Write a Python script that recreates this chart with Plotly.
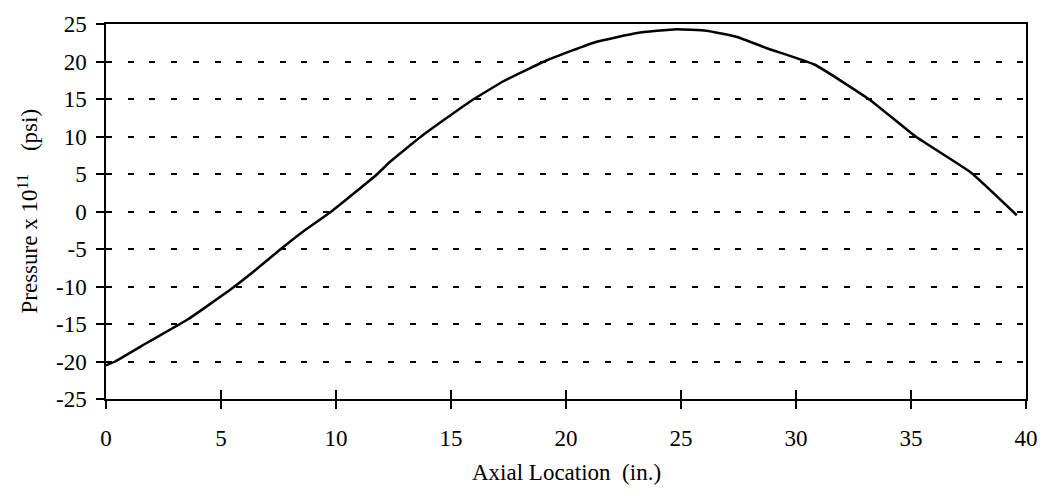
import plotly.graph_objects as go

axial_in = [0, 0.4, 1.9, 3.6, 5.5, 6.5, 7.6, 8.6, 9.8, 11.8, 12.3, 13.7, 15.8, 17.3,
            19.2, 21.3, 23.1, 24.8, 26.1, 27.4, 28.8, 30.8, 33.2, 35.2, 37.6, 39.6]
pressure = [-20.5, -20.0, -17.3, -14.3, -10.2, -7.8, -5.0, -2.6, 0.0, 5.0, 6.5, 10.0, 14.6, 17.4,
            20.2, 22.6, 23.8, 24.3, 24.1, 23.3, 21.7, 19.6, 14.9, 10.0, 5.2, -0.5]

x_ticks = [0, 5, 10, 15, 20, 25, 30, 35, 40]
y_ticks = [25, 20, 15, 10, 5, 0, -5, -10, -15, -20, -25]

FONT = "Liberation Serif, Times New Roman, serif"
FS = 23

fig = go.Figure()
fig.add_trace(go.Scatter(x=axial_in, y=pressure, mode="lines",
                         line=dict(color="black", width=2.5, shape="spline", smoothing=0.4),
                         showlegend=False, cliponaxis=False))
# invisible trace to carry the overlay axis (inside tick halves)
fig.add_trace(go.Scatter(x=[0, 40], y=[-25, 25], mode="markers", marker=dict(opacity=0),
                         xaxis="x2", yaxis="y2", showlegend=False, hoverinfo="skip"))

fig.update_layout(
    width=1050, height=501,
    margin=dict(l=106, r=19, t=15, b=102),
    paper_bgcolor="white", plot_bgcolor="white",
    font=dict(family=FONT, size=FS, color="black"),
    xaxis=dict(range=[0, 40], tickvals=x_ticks, ticktext=[str(v) for v in x_ticks],
               ticks="outside", ticklen=8, tickwidth=1.5, tickcolor="black",
               showline=True, linecolor="black", linewidth=1.5, mirror=True,
               showgrid=False, zeroline=False, ticklabelstandoff=10,
               tickfont=dict(family=FONT, size=FS, color="black")),
    yaxis=dict(range=[-25, 25], tickvals=y_ticks, ticktext=[str(v) for v in y_ticks],
               ticks="outside", ticklen=8, tickwidth=1.5, tickcolor="black",
               showline=True, linecolor="black", linewidth=1.5, mirror=True,
               showgrid=True, gridcolor="black", gridwidth=1.8, griddash="6px,15.7px",
               zeroline=False, ticklabelstandoff=5,
               tickfont=dict(family=FONT, size=FS, color="black")),
    xaxis2=dict(overlaying="x", matches="x", range=[0, 40], tickvals=x_ticks,
                ticks="inside", ticklen=9, tickwidth=1.5, tickcolor="black",
                showticklabels=False, showgrid=False, zeroline=False, showline=False,
                side="bottom"),
    yaxis2=dict(overlaying="y", matches="y", range=[-25, 25], tickvals=y_ticks,
                ticks="inside", ticklen=2, tickwidth=1.5, tickcolor="black",
                showticklabels=False, showgrid=False, zeroline=False, showline=False,
                side="left"),
    annotations=[
        dict(text="Axial Location\u00a0\u00a0(in.)", xref="paper", yref="paper",
             x=0.5, y=0, yanchor="middle", xanchor="center", yshift=-73,
             showarrow=False, font=dict(family=FONT, size=FS, color="black")),
        dict(text="Pressure x 10<sup>11</sup>\u00a0\u00a0\u00a0\u00a0(psi)", xref="paper", yref="paper",
             x=0, y=0.5, xanchor="center", yanchor="middle", xshift=-78, textangle=-90,
             showarrow=False, font=dict(family=FONT, size=FS, color="black")),
    ],
)

fig.write_html("out.html")
